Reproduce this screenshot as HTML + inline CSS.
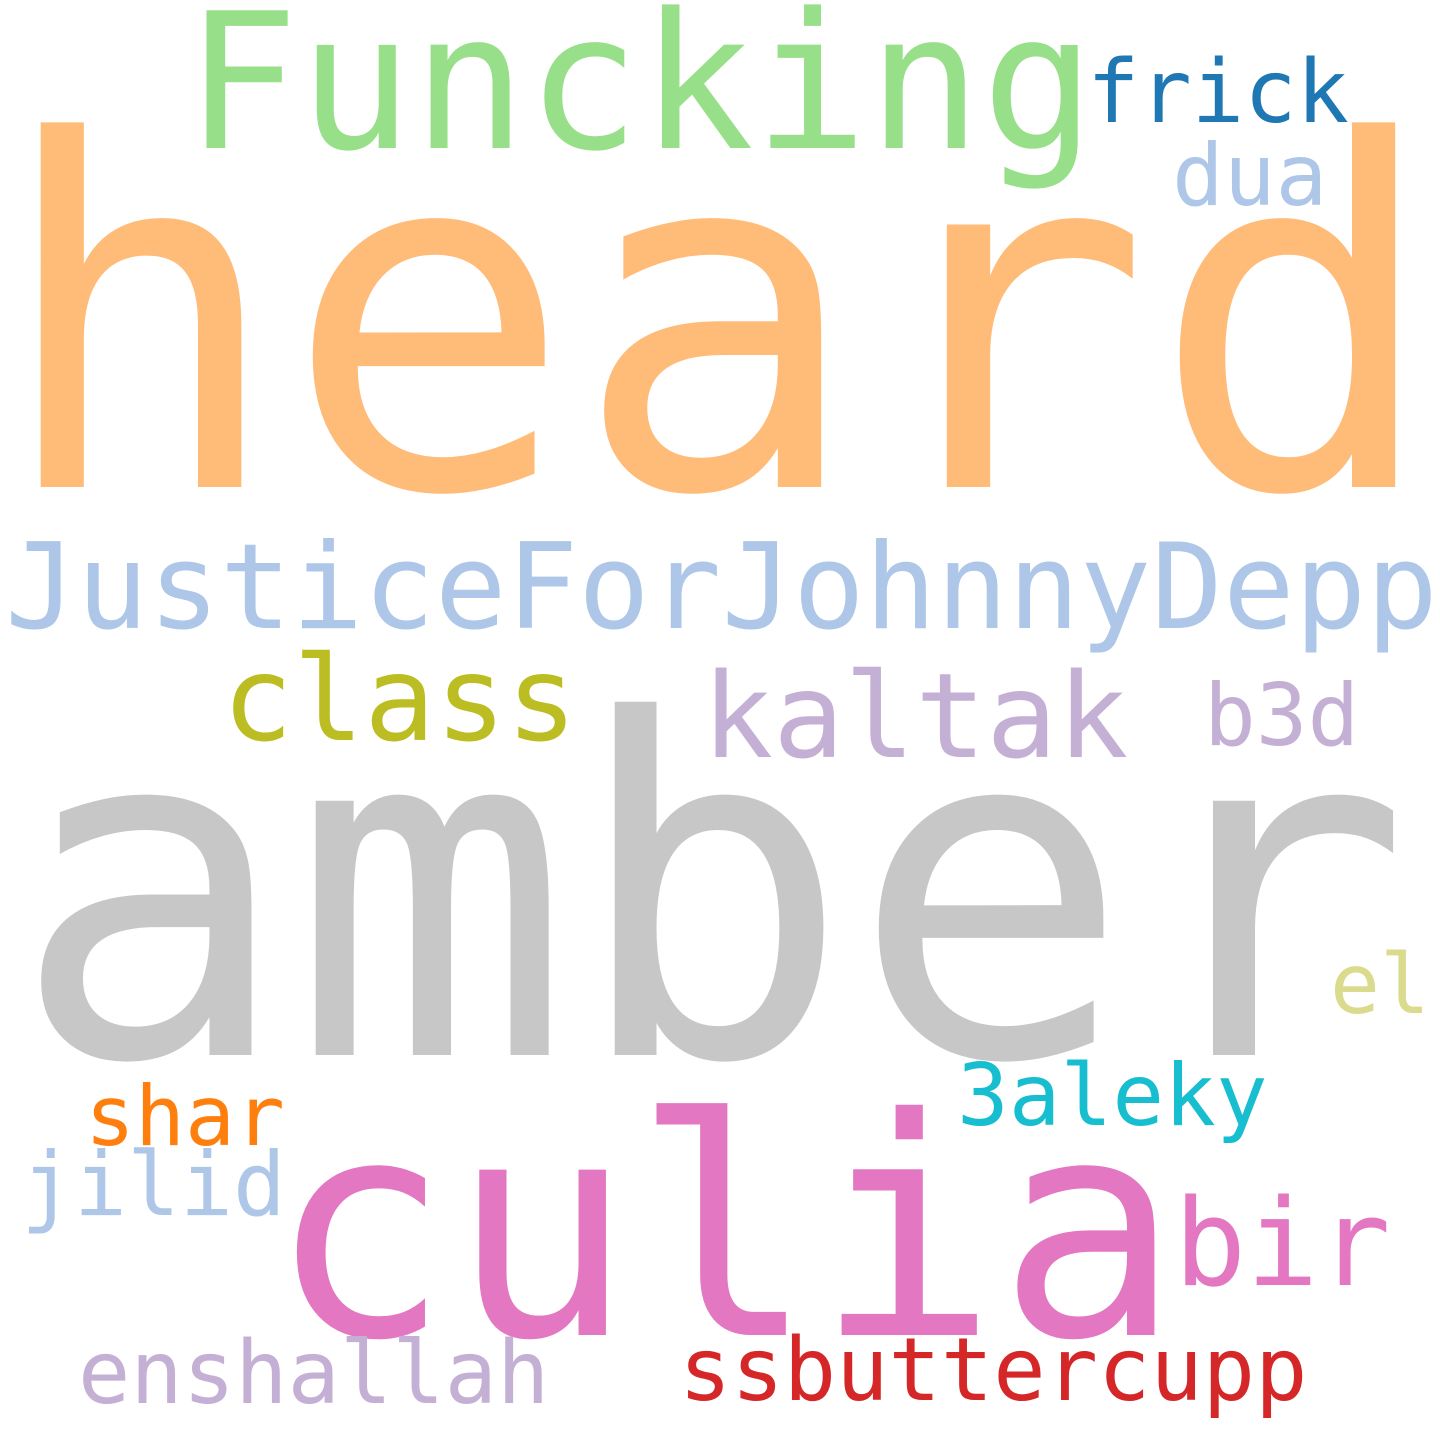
<!DOCTYPE html>
<html>
<head>
<meta charset="utf-8">
<style>
  html, body { margin: 0; padding: 0; background: #ffffff; }
  svg { display: block; }
  text { font-family: "DejaVu Sans Mono", "Liberation Mono", monospace; }
</style>
</head>
<body>
<svg id="cloud" width="1440" height="1440" viewBox="0 0 1440 1440" xmlns="http://www.w3.org/2000/svg">
  <rect x="0" y="0" width="1440" height="1440" fill="#ffffff"></rect>
</svg>
<script>
const words = ["heard","amber","culia","JusticeForJohnnyDepp","Funcking","frick","dua","class","kaltak","b3d","el","3aleky","shar","jilid","bir","enshallah","ssbuttercupp"];
const weights = [480,465,303,119,189,87,86,118,118,86,83,86,83,88,120,87,87];
const colors = ["#ffbb78","#c7c7c7","#e377c2","#aec7e8","#98df8a","#1f77b4","#aec7e8","#bcbd22","#c5b0d5","#c5b0d5","#dbdb8d","#17becf","#ff7f0e","#aec7e8","#e377c2","#c5b0d5","#d62728"];
const anchorX = [-5,11,268,5,185,1087,1172,222,702,1204,1330,957,85,21,1174,78,679];
const baselineY = [487,1055,1335,628,148,122,205,740,757,745,1013,1125,1145,1215,1285,1403,1400];

const svg = document.getElementById('cloud');
const NS = 'http://www.w3.org/2000/svg';
words.forEach((w, i) => {
  const t = document.createElementNS(NS, 'text');
  t.setAttribute('x', anchorX[i]);
  t.setAttribute('y', baselineY[i]);
  t.setAttribute('font-size', weights[i]);
  t.setAttribute('fill', colors[i]);
  t.textContent = w;
  
  
  svg.appendChild(t);
});
</script>
</body>
</html>
